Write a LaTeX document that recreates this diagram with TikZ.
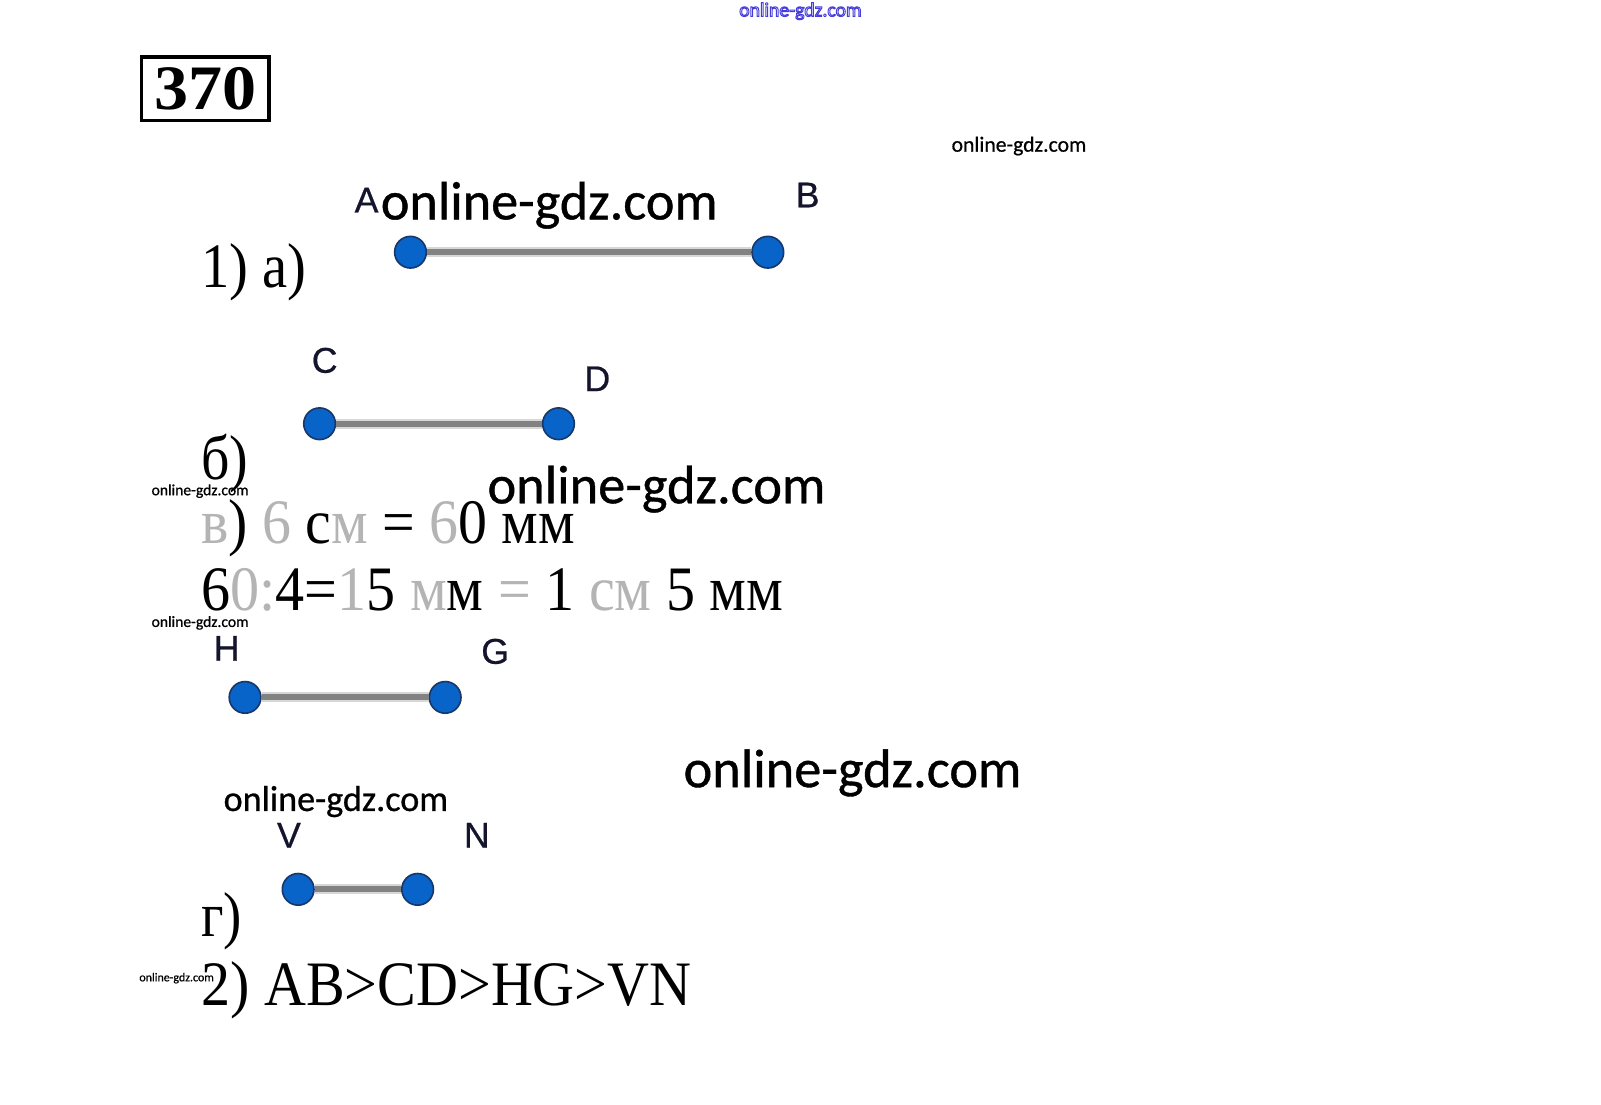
\documentclass[tikz,border=0pt]{standalone}
\usepackage{fontspec}
\setmainfont{Liberation Serif}
\newfontfamily\wmfont[FakeBold=0.7]{Carlito}
\newfontfamily\wmthin{Carlito}
\newfontfamily\lblfont[FakeBold=0.6]{Liberation Sans}
\usepackage{graphicx}
\newcommand\hfit[2]{\resizebox{#1}{\height}{#2}}
\newcommand\wfit[2]{\resizebox{#1}{!}{#2}}
\newcommand\outlinetext[1]{\special{pdf:code 1 Tr 0.5 w}#1\special{pdf:code 0 Tr}}
\definecolor{dotblue}{RGB}{8,100,200}
\definecolor{dotedge}{RGB}{25,55,105}
\definecolor{seggray}{RGB}{130,130,130}
\definecolor{halogray}{RGB}{215,215,215}
\definecolor{lblcol}{RGB}{20,20,45}
\definecolor{ghost}{RGB}{180,180,180}
\definecolor{wmblue}{RGB}{70,60,220}
\newcommand\gr[1]{\textcolor{ghost}{#1}}
\begin{document}
\begin{tikzpicture}[x=1pt,y=-1pt,
  ptdot/.style={circle, fill=dotblue, draw=dotedge, line width=1.6pt, minimum size=31pt, inner sep=0pt},
  seghalo/.style={line width=10pt, draw=halogray},
  segline/.style={line width=6pt, draw=seggray},
  lbl/.style={font=\lblfont\fontsize{35}{35}\selectfont, text=lblcol, inner sep=0pt},
  serif/.style={font=\fontsize{62}{62}\selectfont, inner sep=0pt, anchor=base west},
  wm/.style={font=\wmfont, inner sep=0pt, text=black},
  numbox/.style={draw=black, line width=3.5pt, minimum width=125pt, minimum height=62pt, inner sep=0pt,
     font=\bfseries\fontsize{62}{62}\selectfont}
]
\useasboundingbox (0,0) rectangle (1568,1082);
\fill[white] (0,0) rectangle (1568,1082);

% number box
\node[numbox] (num) at (201,87) {\hfit{100pt}{370}};

% segment AB
\node[ptdot] (A) at (402,247) {};
\node[ptdot] (B) at (752,247) {};
\node[lbl] (lA) at (359,196) {A};
\node[lbl] (lB) at (791,191) {B};
% segment CD
\node[ptdot] (C) at (313,415) {};
\node[ptdot] (D) at (547,415) {};
\node[lbl] (lC) at (318,353) {C};
\node[lbl] (lD) at (585,371) {D};
% segment HG
\node[ptdot] (H) at (240,683) {};
\node[ptdot] (G) at (436,683) {};
\node[lbl] (lH) at (222,635) {H};
\node[lbl] (lG) at (485,638) {G};
% segment VN
\node[ptdot] (V) at (292,871) {};
\node[ptdot] (N) at (409,871) {};
\node[lbl] (lV) at (283,818) {V};
\node[lbl] (lN) at (467,818) {N};

\foreach \p/\q in {A/B, C/D, H/G, V/N}{
  \draw[seghalo] (\p) -- (\q);
  \draw[segline] (\p) -- (\q);
}

% serif texts
\node[serif] (t1) at (197,282) {\hfit{103pt}{1) а)}};
\node[serif] (t2) at (197,470) {\hfit{46pt}{б)}};
\node[serif] (t3) at (197,532) {\hfit{366pt}{\gr{в}) \gr{6} с\gr{м} = \gr{6}0 мм}};
\node[serif] (t4) at (197,598) {\hfit{570pt}{6\gr{0:}4=\gr{1}5 \gr{м}м \gr{=} 1 \gr{см} 5 мм}};
\node[serif] (t5) at (197,917) {\hfit{40pt}{г)}};
\node[serif] (t6) at (197,985) {\hfit{480pt}{2) AB>CD>HG>VN}};

% watermarks
\node[wm, font=\wmthin, text=wmblue] (w0) at (784,11) {\wfit{120pt}{\outlinetext{online-gdz.com}}};
\node[wm] (w1) at (998,143) {\wfit{132pt}{online-gdz.com}};
\node[wm] (w2) at (538,201) {\wfit{330pt}{online-gdz.com}};
\node[wm] (w3) at (196,481) {\wfit{95pt}{online-gdz.com}};
\node[wm] (w4) at (643,479) {\wfit{331pt}{online-gdz.com}};
\node[wm] (w5) at (196,610) {\wfit{95pt}{online-gdz.com}};
\node[wm] (w6) at (835,757) {\wfit{331pt}{online-gdz.com}};
\node[wm] (w7) at (329,785) {\wfit{220pt}{online-gdz.com}};
\node[wm] (w8) at (173,958) {\wfit{73pt}{online-gdz.com}};
\end{tikzpicture}
\end{document}
